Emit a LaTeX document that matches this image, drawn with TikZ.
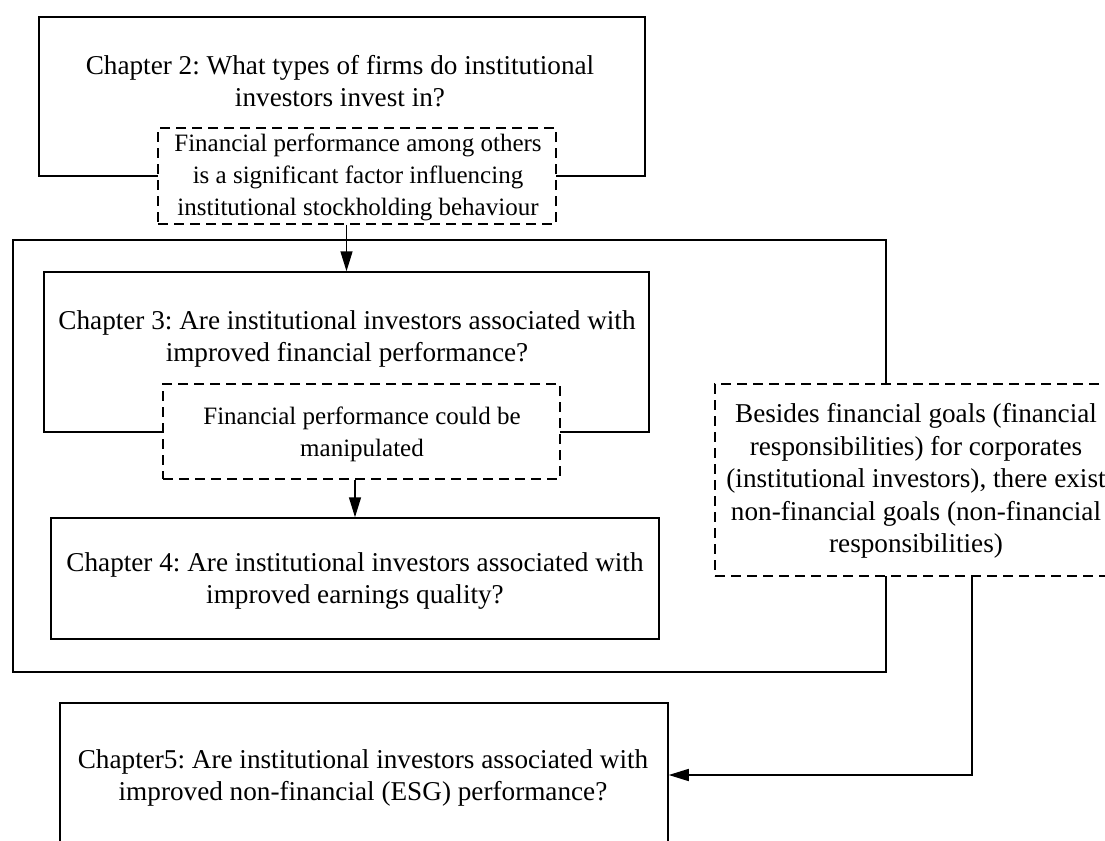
\documentclass[tikz,border=0pt]{standalone}
\usepackage{fontspec}
\setmainfont{Liberation Serif}
\frenchspacing
\usetikzlibrary{arrows.meta}
\tikzset{
  boxst/.style={draw, line width=0.75pt, inner sep=0pt, fill=white},
  dboxst/.style={boxst, dash pattern=on 5pt off 3pt},
  txt/.style={align=center, inner sep=0pt, font=\fontsize{13.6}{16.3}\selectfont},
  stxt/.style={txt, font=\fontsize{12.5}{16}\selectfont},
  arr/.style={line width=0.75pt, -{Triangle[length=10pt,width=6pt]}}
}
\begin{document}
\begin{tikzpicture}[x=0.5pt,y=-0.5pt]
\clip (0,0) rectangle (1105,841);
\fill[white] (0,0) rectangle (1105,841);
% outer box
\node[boxst, minimum width=436.5pt, minimum height=216pt] (outer) at (449.5,456) {};
% chapter 2
\node[boxst, minimum width=303pt, minimum height=79.5pt] (ch2) at (342,96.5) {};
\node[txt] (ch2t) at (340,81) {Chapter 2: What types of firms do institutional\\investors invest in?};
\node[dboxst, minimum width=199pt, minimum height=48pt] (q2) at (357,176) {};
\node[stxt] (q2t) at (358,177) {Financial performance among others\\is a significant factor influencing\\institutional stockholding behaviour};
% chapter 3
\node[boxst, minimum width=302.5pt, minimum height=80pt] (ch3) at (346.5,352) {};
\node[txt] (ch3t) at (347,339) {Chapter 3: Are institutional investors associated with\\improved financial performance?};
\node[dboxst, minimum width=198.5pt, minimum height=47.5pt] (q3) at (361.5,431.5) {};
\node[stxt] (q3t) at (362,434) {Financial performance could be\\manipulated};
% chapter 4
\node[boxst, minimum width=304pt, minimum height=60.5pt] (ch4) at (355,578.5) {};
\node[txt] (ch4t) at (355,581) {Chapter 4: Are institutional investors associated with\\improved earnings quality?};
% right dashed box
\node[dboxst, minimum width=200pt, minimum height=96pt] (q4) at (915,480) {};
\node[txt] (q4t) at (916,481) {Besides financial goals (financial\\responsibilities) for corporates\\(institutional investors), there exist\\non-financial goals (non-financial\\responsibilities)};
% chapter 5
\node[boxst, minimum width=304pt, minimum height=72pt] (ch5) at (364,775) {};
\node[txt] (ch5t) at (363,778) {Chapter5: Are institutional investors associated with\\improved non-financial (ESG) performance?};
% connectors
\draw[arr] (q2.south -| ch3.north) -- (ch3.north);
\draw[arr] (q3.south -| ch4.north) -- (ch4.north);
\coordinate (q4out) at (972,576);
\draw[arr] (q4.south -| q4out) |- (ch5.east);
\end{tikzpicture}
\end{document}
